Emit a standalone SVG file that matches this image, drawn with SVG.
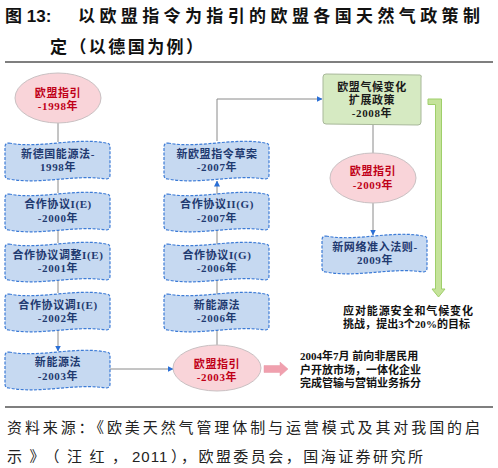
<svg xmlns="http://www.w3.org/2000/svg" width="498" height="468" viewBox="0 0 498 468">
<style>
.title{font-family:"Liberation Sans","Noto Sans CJK SC",sans-serif;font-weight:bold;font-size:17px;fill:#111}
.foot{font-family:"Liberation Sans","Noto Sans CJK SC",sans-serif;font-size:15px;fill:#222}
.bt{font-family:"Liberation Serif","Noto Sans CJK SC",serif;font-weight:bold;font-size:11px;fill:#1f3a70;text-anchor:middle;letter-spacing:0.6px}
.et{font-family:"Liberation Serif","Noto Sans CJK SC",serif;font-weight:bold;font-size:11px;fill:#c00018;text-anchor:middle;letter-spacing:0.6px}
.gt{font-family:"Liberation Serif","Noto Sans CJK SC",serif;font-weight:bold;font-size:11px;fill:#1a1a1a;text-anchor:middle;letter-spacing:0.6px}
.nt{font-family:"Liberation Serif","Noto Sans CJK SC",serif;font-weight:bold;font-size:11px;fill:#111}
.tape{fill:#c6d9f1;stroke:#3c7bd6;stroke-width:1.2;stroke-dasharray:3 1.5}
.ell{fill:#f9d4d9;stroke:#c9c0c2;stroke-width:1}
.con{fill:none;stroke:#8a8a8a;stroke-width:1}
.rule{stroke:#7f7f7f;stroke-width:2}
</style>
<defs>
<path id="tp" d="M4,1 C35,7 70,-5 101,1 Q105,1 105,5 L105,33 Q105,37 101,37 C70,32 35,43 4,37 Q0,37 0,33 L0,5 Q0,1 4,1 Z"/>
<marker id="ah" markerWidth="6" markerHeight="6" refX="5.5" refY="3" orient="auto" markerUnits="userSpaceOnUse">
<path d="M0,0 L6,3 L0,6 Z" fill="#2a6fd6"/>
</marker>
</defs>

<!-- title -->
<text class="title" x="5" y="22">图 13:<tspan x="78" textLength="402" lengthAdjust="spacing">以欧盟指令为指引的欧盟各国天然气政策制</tspan></text>
<text class="title" x="50" y="53" textLength="153" lengthAdjust="spacing">定（以德国为例）</text>
<line class="rule" x1="5" y1="62" x2="493" y2="62"/>

<!-- connectors -->
<g id="connectors">
<line class="con" x1="58" y1="123" x2="58" y2="142"/>
<line class="con" x1="58" y1="180" x2="58" y2="193"/>
<line class="con" x1="58" y1="230" x2="58" y2="243"/>
<line class="con" x1="58" y1="281" x2="58" y2="293"/>
<line class="con" x1="58" y1="330" x2="58" y2="351" marker-end="url(#ah)"/>
<line class="con" x1="110" y1="369" x2="173" y2="369" marker-end="url(#ah)"/>
<line class="con" x1="217" y1="345" x2="217" y2="181" marker-end="url(#ah)"/>
<polyline class="con" points="217,141 217,99 322,99" marker-end="url(#ah)"/>
<line class="con" x1="373" y1="125" x2="373" y2="153"/>
<line class="con" x1="373" y1="203" x2="373" y2="235" marker-end="url(#ah)"/>
<path d="M264,365.5 L280,365.5 L280,362 L288,369 L280,376 L280,372.5 L264,372.5 Z" fill="#f0a0ae" stroke="#e89aa8" stroke-width="0.5"/>
<path d="M428,99 L441.5,99 L441.5,289 L445,289 L438.5,297 L432,289 L435.5,289 L435.5,104.5 L428,104.5 Z" fill="#c5e39a" stroke="#9fcf6a" stroke-width="1"/>
</g>

<!-- left column -->
<g id="n-eu1998"><ellipse class="ell" cx="58" cy="98" rx="43" ry="25"/><text class="et" x="58" y="97">欧盟指引</text><text class="et" x="58" y="110">-1998年</text></g>
<g id="n-de1998"><use href="#tp" class="tape" x="5" y="142"/><text class="bt" x="58" y="158">新德国能源法-</text><text class="bt" x="58" y="171">1998年</text></g>
<g id="n-ie2000"><use href="#tp" class="tape" x="5" y="193"/><text class="bt" x="58" y="208">合作协议I(E)</text><text class="bt" x="58" y="222">-2000年</text></g>
<g id="n-ie2001"><use href="#tp" class="tape" x="5" y="243"/><text class="bt" x="58" y="259">合作协议调整I(E)</text><text class="bt" x="58" y="272">-2001年</text></g>
<g id="n-ie2002"><use href="#tp" class="tape" x="5" y="293"/><text class="bt" x="58" y="309">合作协议调I(E)</text><text class="bt" x="58" y="322">-2002年</text></g>
<g id="n-ne2003"><use href="#tp" class="tape" x="5" y="351"/><text class="bt" x="58" y="366">新能源法</text><text class="bt" x="58" y="380">-2003年</text></g>

<!-- middle column -->
<g id="n-draft2007"><use href="#tp" class="tape" x="164" y="142"/><text class="bt" x="217" y="158">新欧盟指令草案</text><text class="bt" x="217" y="171">-2007年</text></g>
<g id="n-iig2007"><use href="#tp" class="tape" x="164" y="193"/><text class="bt" x="217" y="208">合作协议II(G)</text><text class="bt" x="217" y="222">-2007年</text></g>
<g id="n-ig2006"><use href="#tp" class="tape" x="164" y="243"/><text class="bt" x="217" y="259">合作协议I(G)</text><text class="bt" x="217" y="272">-2006年</text></g>
<g id="n-ne2006"><use href="#tp" class="tape" x="164" y="293"/><text class="bt" x="217" y="309">新能源法</text><text class="bt" x="217" y="322">-2006年</text></g>
<g id="n-eu2003"><ellipse class="ell" cx="217" cy="368" rx="44" ry="23"/><text class="et" x="217" y="368">欧盟指引</text><text class="et" x="217" y="381">-2003年</text></g>

<!-- right column -->
<g id="n-climate2008"><path d="M326,74 L420,75 Q422,75 421,78 L421,122 Q421,125 418,125 L326,124 Q323,124 323,121 L323,77 Q323,74 326,74 Z" fill="#d6eac2" stroke="#a8b89a" stroke-width="1"/><text class="gt" x="372" y="91">欧盟气候变化</text><text class="gt" x="372" y="104">扩展政策</text><text class="gt" x="372" y="117">-2008年</text></g>
<g id="n-eu2009"><ellipse class="ell" cx="373" cy="178" rx="43" ry="25"/><text class="et" x="373" y="175">欧盟指引</text><text class="et" x="373" y="189">-2009年</text></g>
<g id="n-net2009"><use href="#tp" class="tape" x="322" y="235"/><text class="bt" x="375" y="251">新网络准入法则-</text><text class="bt" x="375" y="264">2009年</text></g>

<!-- notes -->
<g id="note-target"><text class="nt" x="343" y="315" textLength="130" lengthAdjust="spacing">应对能源安全和气候变化</text><text class="nt" x="343" y="328" textLength="127" lengthAdjust="spacing">挑战，提出3个20%的目标</text></g>
<g id="note-2004"><text class="nt" x="300" y="360">2004年7月 前向非居民用</text><text class="nt" x="300" y="374">户开放市场，一体化企业</text><text class="nt" x="300" y="387">完成管输与营销业务拆分</text></g>

<!-- footer -->
<line class="rule" x1="5" y1="407" x2="493" y2="407"/>
<text class="foot" x="7" y="433" textLength="473" lengthAdjust="spacing">资料来源：《欧美天然气管理体制与运营模式及其对我国的启</text>
<text class="foot" y="462"><tspan x="7" textLength="120" lengthAdjust="spacing">示》（汪红，</tspan><tspan x="132" letter-spacing="1">2011</tspan><tspan x="171" textLength="252" lengthAdjust="spacing">），欧盟委员会，国海证券研究所</tspan></text>
</svg>
